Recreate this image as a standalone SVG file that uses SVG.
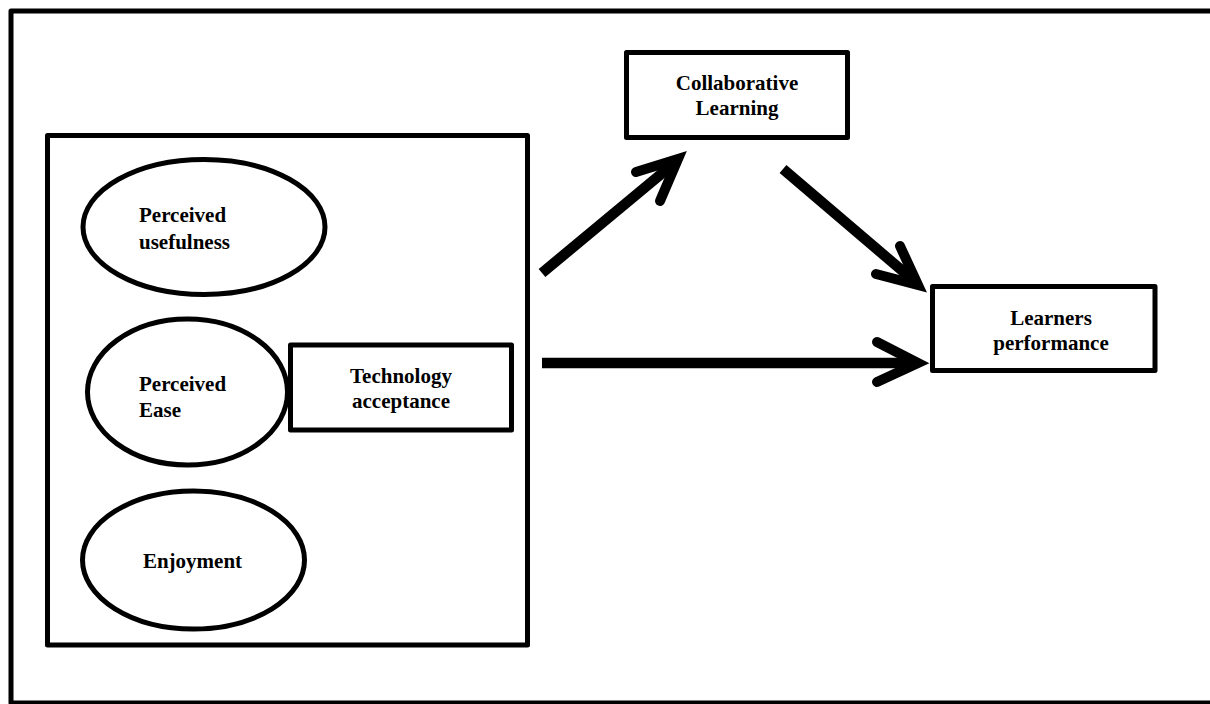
<svg xmlns="http://www.w3.org/2000/svg" width="1210" height="704" viewBox="0 0 1210 704">
<style>
.box{fill:#fff;stroke:#000;stroke-width:5;stroke-linejoin:round}
.ell{fill:#fff;stroke:#000;stroke-width:5}
.t{font-family:"Liberation Serif","Times New Roman",serif;font-weight:bold;font-size:21px;fill:#000}
.shaft{stroke:#000;stroke-width:10.5;fill:none;stroke-linecap:butt}
.head{stroke:#000;stroke-width:10;fill:none;stroke-linecap:round;stroke-linejoin:miter;stroke-miterlimit:10}
</style>
<rect x="0" y="0" width="1210" height="704" fill="#fff"/>
<g id="frame"><rect class="box" x="11" y="11" width="1215" height="692"/></g>
<g id="tam-group"><rect class="box" x="47.5" y="135.5" width="480" height="509.5"/></g>
<g id="perceived-usefulness">
<ellipse class="ell" cx="204" cy="227" rx="121" ry="67.5"/>
<text class="t" x="139" y="222">Perceived</text>
<text class="t" x="139" y="249">usefulness</text>
</g>
<g id="perceived-ease">
<ellipse class="ell" cx="187.5" cy="392" rx="100" ry="73"/>
<text class="t" x="139" y="391">Perceived</text>
<text class="t" x="139" y="417">Ease</text>
</g>
<g id="enjoyment">
<ellipse class="ell" cx="193.5" cy="560" rx="111" ry="69"/>
<text class="t" x="192.5" y="568" text-anchor="middle">Enjoyment</text>
</g>
<g id="technology-acceptance">
<rect class="box" x="290.5" y="345" width="221" height="85"/>
<text class="t" x="401" y="383" text-anchor="middle">Technology</text>
<text class="t" x="401" y="408" text-anchor="middle">acceptance</text>
</g>
<g id="collaborative-learning">
<rect class="box" x="626.5" y="52.5" width="221" height="85"/>
<text class="t" x="737" y="90" text-anchor="middle">Collaborative</text>
<text class="t" x="737" y="115" text-anchor="middle">Learning</text>
</g>
<g id="learners-performance">
<rect class="box" x="932.5" y="286.5" width="222.5" height="84"/>
<text class="t" x="1051" y="325" text-anchor="middle">Learners</text>
<text class="t" x="1051" y="350" text-anchor="middle">performance</text>
</g>
<g id="connectors">
<line class="shaft" x1="542" y1="273" x2="672" y2="165"/>
<polyline class="head" points="636,172 678,159 660,201"/>
<line class="shaft" x1="783" y1="169" x2="912" y2="279"/>
<polyline class="head" points="900,246 918,285 876,274"/>
<line class="shaft" x1="542" y1="363" x2="912" y2="363"/>
<polyline class="head" points="877,342 918,363 877,382"/>
</g>
</svg>
